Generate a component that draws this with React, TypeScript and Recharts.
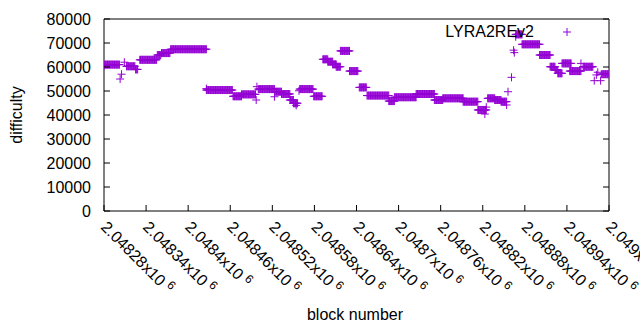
import { ScatterChart, Scatter, XAxis, YAxis } from "recharts";

// block numbers are offsets from this first block
const firstBlock = 2048280;

// runs of constant difficulty: [from, to] offsets and value
const runFrom = [0, 1, 23, 25, 29, 32, 45, 51, 76, 82, 95, 146, 146, 184, 196, 217, 218, 220, 243, 244, 253, 265, 270, 274, 278, 279, 299, 312, 319, 326, 331, 337, 350, 364, 375, 406, 414, 445, 471, 483, 512, 533, 543, 545, 547, 557, 566, 574, 576, 581, 584, 585, 587, 587, 596, 621, 636, 643, 647, 653, 664, 680, 683, 699, 702, 704, 708, 709];
const runTo = [0, 22, 23, 25, 29, 44, 48, 75, 81, 94, 146, 183, 146, 196, 216, 217, 218, 243, 243, 253, 265, 270, 276, 274, 278, 298, 311, 319, 326, 331, 337, 350, 362, 374, 406, 414, 445, 471, 483, 512, 533, 545, 543, 545, 557, 566, 574, 574, 576, 581, 584, 585, 587, 596, 621, 636, 643, 647, 653, 666, 680, 680, 697, 699, 702, 704, 708, 719];
const runDiff = [60500, 61000, 55000, 57000, 62000, 60300, 59000, 63000, 65000, 65800, 67400, 50400, 51000, 47800, 48600, 46250, 51800, 50800, 47600, 49700, 48750, 46250, 44900, 44000, 50100, 50800, 47800, 63200, 62200, 61100, 60100, 66700, 58300, 51500, 48100, 45800, 47400, 48750, 46250, 46950, 45550, 42100, 40400, 43300, 46950, 46250, 45550, 44170, 49700, 55700, 67000, 66000, 72600, 73600, 69450, 65000, 60100, 58750, 57370, 61500, 58300, 61500, 60100, 54300, 56700, 57800, 54300, 57000];

const xTicks = [2048280, 2048340, 2048400, 2048460, 2048520, 2048580, 2048640, 2048700, 2048760, 2048820, 2048880, 2048940, 2049000];
const yTicks = [0, 10000, 20000, 30000, 40000, 50000, 60000, 70000, 80000];

const data: { block: number; difficulty: number }[] = [];
runFrom.forEach((from, i) => {
  for (let b = from; b <= runTo[i]; b++) {
    data.push({ block: firstBlock + b, difficulty: runDiff[i] });
  }
});

const COLOR = "#9400d3";
const FONT = "'Liberation Sans', Arial, sans-serif";

function Plus({ cx, cy }: any) {
  return (
    <path d={`M${cx - 4},${cy}H${cx + 4}M${cx},${cy - 4}V${cy + 4}`} stroke={COLOR} strokeWidth={1} fill="none" />
  );
}

function fmtBlock(v: number) {
  return parseFloat((v / 1e6).toFixed(5)).toString();
}

function BottomTick({ x, y, payload }: any) {
  return (
    <g>
      <line x1={x} y1={y} x2={x} y2={y - 6} stroke="#000" />
      <text
        transform={`translate(${x - 4},${y + 17}) rotate(45)`}
        fontSize={16}
        fontFamily={FONT}
        fill="#000"
      >
        {fmtBlock(payload.value)}x10
        <tspan dx={4} dy={-6} fontSize={12}>6</tspan>
      </text>
    </g>
  );
}

function LeftTick({ x, y, payload }: any) {
  return (
    <g>
      <line x1={x} y1={y} x2={x + 6} y2={y} stroke="#000" />
      <text x={x - 13} y={y} dy="0.36em" textAnchor="end" fontSize={16} fontFamily={FONT} fill="#000">
        {payload.value}
      </text>
    </g>
  );
}

function TopTick({ x, y }: any) {
  return <line x1={x} y1={y} x2={x} y2={y + 6} stroke="#000" />;
}

function RightTick({ x, y }: any) {
  return <line x1={x} y1={y} x2={x - 6} y2={y} stroke="#000" />;
}

function KeyBox() {
  return (
    <svg width={640} height={50} style={{ position: "absolute", left: 0, top: 0, pointerEvents: "none" }}>
      <text x={534} y={37} textAnchor="end" fontSize={16} fontFamily={FONT} fill="#000">
        LYRA2REv2
      </text>
      <Plus cx={567} cy={32} />
    </svg>
  );
}

export default function App() {
  return (
    <div style={{ position: "absolute", left: 0, top: 0, width: 640, height: 330, background: "#fff" }}>
      <ScatterChart width={640} height={330} margin={{ top: 0, right: 0, bottom: 0, left: 0 }}>
        <XAxis
          dataKey="block"
          type="number"
          domain={[2048280, 2049000]}
          ticks={xTicks}
          height={119}
          tickSize={0}
          tickMargin={0}
          tick={<BottomTick />}
          axisLine={{ stroke: "#000" }}
          interval={0}
          allowDataOverflow
          label={{
            content: () => (
              <text x={355} y={320} textAnchor="middle" fontSize={16} fontFamily={FONT} fill="#000">
                block number
              </text>
            ),
          }}
        />
        <XAxis
          xAxisId="top"
          orientation="top"
          type="number"
          domain={[2048280, 2049000]}
          ticks={xTicks}
          height={19}
          tickSize={0}
          tickMargin={0}
          tick={<TopTick />}
          axisLine={{ stroke: "#000" }}
          interval={0}
          allowDataOverflow
        />
        <YAxis
          dataKey="difficulty"
          type="number"
          domain={[0, 80000]}
          ticks={yTicks}
          width={104}
          tickSize={0}
          tickMargin={0}
          tick={<LeftTick />}
          axisLine={{ stroke: "#000" }}
          interval={0}
          allowDataOverflow
          label={{
            content: () => (
              <text transform="translate(22,115) rotate(-90)" textAnchor="middle" fontSize={16} fontFamily={FONT} fill="#000">
                difficulty
              </text>
            ),
          }}
        />
        <YAxis
          yAxisId="right"
          orientation="right"
          type="number"
          domain={[0, 80000]}
          ticks={yTicks}
          width={31}
          tickSize={0}
          tickMargin={0}
          tick={<RightTick />}
          axisLine={{ stroke: "#000" }}
          interval={0}
          allowDataOverflow
        />
        <Scatter data={data} shape={<Plus />} isAnimationActive={false} />
      </ScatterChart>
      <KeyBox />
    </div>
  );
}
